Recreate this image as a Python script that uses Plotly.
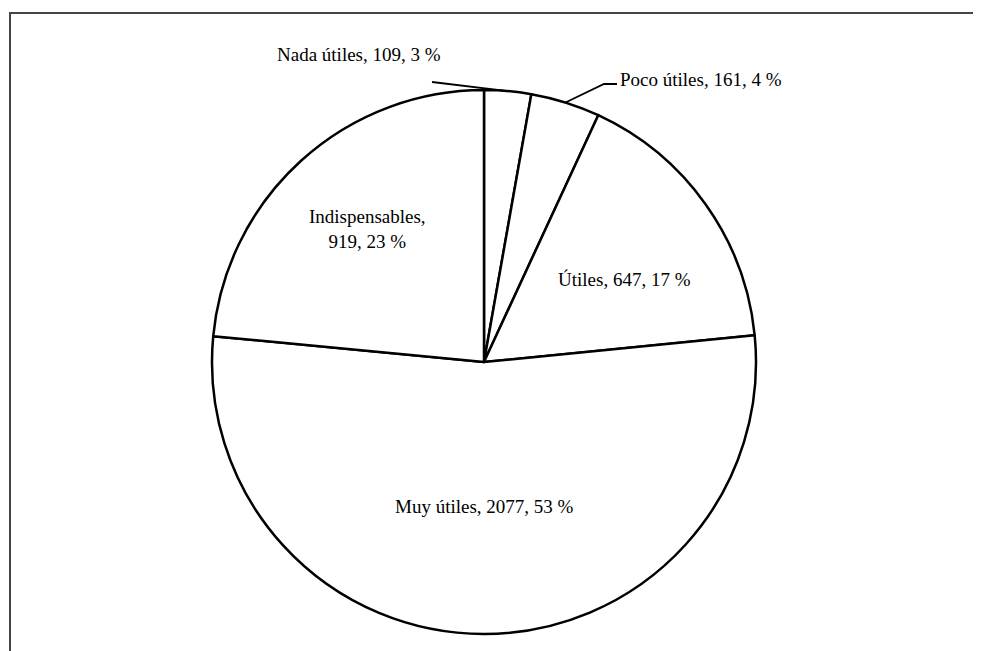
import math
import plotly.graph_objects as go

# ---- data ----
categories = ["Nada útiles", "Poco útiles", "Útiles", "Muy útiles", "Indispensables"]
values = [109, 161, 647, 2077, 919]

W, H = 981, 651
OFF = 8  # page body margin
CX, CY, R = 484, 362, 272  # pie centre / radius in screen pixels

total = sum(values)
pcts = [round(v / total * 100) for v in values]


def px(x):
    return (x - OFF) / W


def py(y):
    return (H - (y - OFF)) / H


fig = go.Figure(go.Pie(
    labels=categories,
    values=values,
    sort=False,
    direction="clockwise",
    rotation=0,
    textinfo="none",
    hoverinfo="label+value+percent",
    marker=dict(colors=["white"] * len(values), line=dict(color="black", width=2.5)),
    domain=dict(x=[px(CX - R), px(CX + R)], y=[py(CY + R), py(CY - R)]),
    showlegend=False,
))


def mid_point(i, frac):
    start = sum(values[:i]) / total
    mid = (start + values[i] / total / 2) * 2 * math.pi
    return CX + frac * R * math.sin(mid), CY - frac * R * math.cos(mid)


font = dict(family="Liberation Serif, Times New Roman, serif", size=19, color="black")
annotations = []

# inside labels (radial fraction, pixel offsets tuned per slice)
inside = {2: (0.62, 3, 15), 3: (0.53, 0, 0), 4: (0.60, -7, -12)}
for i, (frac, dx, dy) in inside.items():
    x, y = mid_point(i, frac)
    txt = f"{categories[i]}, {values[i]}, {pcts[i]} %"
    if i == 4:
        txt = f"{categories[i]},<br>{values[i]}, {pcts[i]} %"
    annotations.append(dict(x=px(x + dx), y=py(y + dy), xref="paper", yref="paper",
                            xanchor="center", yanchor="middle",
                            text=txt, showarrow=False, font=font, align="center"))

shapes = []
# Nada útiles (outside, leader line)
ax, ay = mid_point(0, 1.0)
annotations.append(dict(x=px(359), y=py(55), xref="paper", yref="paper",
                        xanchor="center", yanchor="middle",
                        text=f"{categories[0]}, {values[0]}, {pcts[0]} %",
                        showarrow=False, font=font))
shapes.append(dict(type="path", xref="paper", yref="paper",
                   path=f"M {px(432)},{py(82)} L {px(ax)},{py(ay)}",
                   line=dict(color="black", width=1.8)))
# Poco útiles (outside, elbow leader line)
bx, by = mid_point(1, 1.0)
annotations.append(dict(x=px(618), y=py(80), xref="paper", yref="paper",
                        xanchor="left", yanchor="middle",
                        text=f"{categories[1]}, {values[1]}, {pcts[1]} %",
                        showarrow=False, font=font))
shapes.append(dict(type="path", xref="paper", yref="paper",
                   path=f"M {px(bx)},{py(by)} L {px(604)},{py(84)} L {px(617)},{py(84)}",
                   line=dict(color="black", width=1.8)))

# chart frame (partially cropped)
shapes.append(dict(type="path", xref="paper", yref="paper",
                   path=f"M {px(10)},{py(660)} L {px(10)},{py(13)} L {px(995)},{py(13)}",
                   line=dict(color="#444444", width=2)))

fig.update_layout(
    width=W, height=H,
    margin=dict(l=0, r=0, t=0, b=0),
    paper_bgcolor="white", plot_bgcolor="white",
    annotations=annotations, shapes=shapes,
)

fig.write_html("out.html")
